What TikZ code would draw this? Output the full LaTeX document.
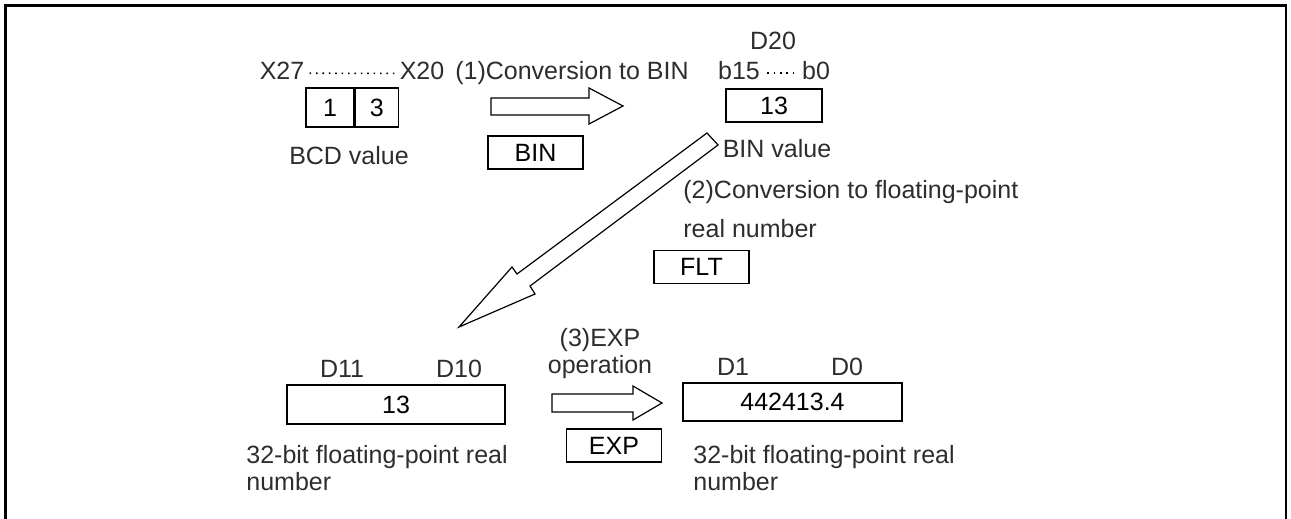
\documentclass[tikz,border=0pt]{standalone}
\usepackage{fontspec}
\setmainfont{Liberation Sans}
\usetikzlibrary{calc}
\definecolor{txtgray}{RGB}{45,45,45}

\begin{document}
\begin{tikzpicture}[
  x=0.5pt, y=-0.5pt,
  font=\fontsize{12.5}{13.5}\selectfont,
  lbl/.style={inner sep=0pt, text=txtgray, anchor=base},
  vbox/.style={draw, line width=0.6pt, inner sep=0pt, minimum height=16.5pt},
  ibox/.style={draw, line width=0.6pt, inner sep=0pt, minimum width=47.5pt, minimum height=16.5pt},
  barrow/.style={draw, line width=0.6pt, line join=miter, fill=white},
  dotline/.style={line width=0.8pt, dash pattern=on 0.8pt off 2.4pt}
]
  \useasboundingbox (0,0) rectangle (1291,519);
  % frame, open at the bottom
  \draw[line width=1.2pt] (5.5,519) -- (5.5,5.5) -- (1286,5.5) -- (1286,519);

  % (1) BCD value -> BIN value
  \node[lbl] (x27) at (282,80) {X27};
  \node[lbl] (x20) at (422,80) {X20};
  \draw[dotline] ($(x27.east)+(5,2)$) -- ($(x20.west)+(-3,2)$);
  \node[vbox, minimum width=24pt, minimum height=19.5pt] (bcdh) at (330,107.5) {1};
  \node[vbox, minimum width=21.5pt, minimum height=19.5pt, anchor=west] (bcdl) at (bcdh.east) {3};
  \node[lbl] (bcdtxt) at (349,164) {BCD value};

  \node[lbl] (conv1) at (572,80) {(1)Conversion to BIN};
  \draw[barrow] (491,98) -- (589,98) -- (589,88) -- (623,106) -- (589,124) -- (589,115) -- (491,115) -- cycle;
  \node[ibox] (bin) at (535.5,152.5) {BIN};

  \node[lbl] (d20) at (773,50) {D20};
  \node[lbl] (b15) at (739,80) {b15};
  \node[lbl] (b0) at (816,80) {b0};
  \draw[dotline] ($(b15.east)+(7,2)$) -- ($(b0.west)+(-5,2)$);
  \node[vbox, minimum width=48pt] (d20val) at (774,105.5) {13};
  \node[lbl] (bintxt) at (777,157) {BIN value};

  % (2) BIN value -> floating-point
  \node[lbl, anchor=north west, align=left] (conv2) at (683,180) {(2)Conversion to floating-point\\[6pt]real number};
  \draw[barrow] (707,133) -- (517,274) -- (512,267) -- (459,327) -- (535,294) -- (530,286) -- (718,145) -- cycle;
  \node[ibox] (flt) at (701.5,267) {FLT};

  % (3) EXP operation
  \node[lbl] (d11) at (342,377) {D11};
  \node[lbl] (d10) at (459,377) {D10};
  \node[vbox, minimum width=109pt, minimum height=19.5pt] (d10val) at (396,404.5) {13};
  \node[lbl, anchor=north west, align=left] (flttxt1) at (246,445) {32-bit floating-point real\\number};

  \node[lbl, anchor=north, align=center] (exptxt) at (600,328) {(3)EXP\\operation};
  \draw[barrow] (552,394) -- (633,394) -- (633,386) -- (662,403) -- (633,420) -- (633,412) -- (552,412) -- cycle;
  \node[ibox] (exp) at (614,445.5) {EXP};

  \node[lbl] (d1) at (733,375) {D1};
  \node[lbl] (d0) at (847,375) {D0};
  \node[vbox, minimum width=109.5pt, minimum height=19pt] (d0val) at (792.5,402) {442413.4};
  \node[lbl, anchor=north west, align=left] (flttxt2) at (693,445) {32-bit floating-point real\\number};
\end{tikzpicture}
\end{document}
